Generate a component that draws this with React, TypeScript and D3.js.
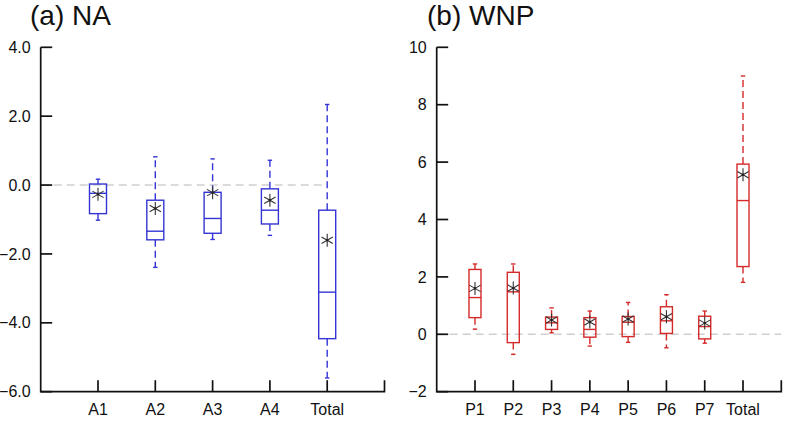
import React, { useRef, useEffect } from 'react';
import * as d3 from 'd3';

// (a) NA
const naCategories = ['A1', 'A2', 'A3', 'A4', 'Total'];
const naWhiskerLow = [-1.02, -2.39, -1.58, -1.46, -5.6];
const naQ1 = [-0.83, -1.59, -1.4, -1.13, -4.46];
const naMedian = [-0.24, -1.34, -0.97, -0.73, -3.11];
const naQ3 = [0.03, -0.44, -0.21, -0.11, -0.73];
const naWhiskerHigh = [0.17, 0.82, 0.76, 0.72, 2.34];
const naMean = [-0.27, -0.68, -0.22, -0.44, -1.6];
const naTicks = [4, 2, 0, -2, -4, -6];

// (b) WNP
const wnpCategories = ['P1', 'P2', 'P3', 'P4', 'P5', 'P6', 'P7', 'Total'];
const wnpWhiskerLow = [0.18, -0.7, 0.05, -0.41, -0.28, -0.47, -0.31, 1.81];
const wnpQ1 = [0.58, -0.29, 0.17, -0.1, -0.08, 0.03, -0.16, 2.36];
const wnpMedian = [1.28, 1.48, 0.4, 0.17, 0.42, 0.47, 0.27, 4.66];
const wnpQ3 = [2.26, 2.16, 0.6, 0.58, 0.62, 0.96, 0.63, 5.93];
const wnpWhiskerHigh = [2.45, 2.45, 0.92, 0.81, 1.11, 1.38, 0.81, 9.0];
const wnpMean = [1.6, 1.61, 0.5, 0.43, 0.53, 0.61, 0.39, 5.56];
const wnpTicks = [10, 8, 6, 4, 2, 0, -2];

const FONT = "'Liberation Sans', Arial, Helvetica, sans-serif";

const drawPanel = (svg, opts) => {
  const {
    title, titleX, categories, lo, q1, med, q3, hi, mean,
    yDomain, yTicks, tickFormat, xRange, color, boxW, zeroEnd,
  } = opts;

  const top = 47.3;
  const bottom = 391.7;
  const nSlots = categories.length + 1;

  const x = d3.scaleLinear().domain([0, nSlots]).range(xRange);
  const y = d3.scaleLinear().domain(yDomain).range([bottom, top]);

  const g = svg.append('g');

  g.append('text')
    .attr('x', titleX)
    .attr('y', 25)
    .attr('font-family', FONT)
    .attr('font-size', 28)
    .attr('fill', '#111')
    .text(title);

  // zero reference line
  g.append('line')
    .attr('x1', x(0)).attr('x2', x(zeroEnd))
    .attr('y1', y(0)).attr('y2', y(0))
    .attr('stroke', '#cfcfcf')
    .attr('stroke-width', 1.5)
    .attr('stroke-dasharray', '8,5');

  // axes
  const tickLen = 11.5;
  g.append('path')
    .attr('d', `M${x(0)},${top}V${bottom}H${x(nSlots)}V${bottom - tickLen}`)
    .attr('fill', 'none')
    .attr('stroke', '#111')
    .attr('stroke-width', 1.7);

  yTicks.forEach(t => {
    g.append('line')
      .attr('x1', x(0)).attr('x2', x(0) + tickLen)
      .attr('y1', y(t)).attr('y2', y(t))
      .attr('stroke', '#111').attr('stroke-width', 1.7);
    g.append('text')
      .attr('x', x(0) - 10)
      .attr('y', y(t))
      .attr('dy', '0.35em')
      .attr('text-anchor', 'end')
      .attr('font-family', FONT)
      .attr('font-size', 16)
      .attr('fill', '#111')
      .text(tickFormat(t));
  });

  categories.forEach((c, i) => {
    const cx = x(i + 1);
    g.append('line')
      .attr('x1', cx).attr('x2', cx)
      .attr('y1', bottom).attr('y2', bottom - tickLen)
      .attr('stroke', '#111').attr('stroke-width', 1.7);
    g.append('text')
      .attr('x', cx)
      .attr('y', 415)
      .attr('text-anchor', 'middle')
      .attr('font-family', FONT)
      .attr('font-size', 16)
      .attr('fill', '#111')
      .text(c);
  });

  // boxes
  categories.forEach((c, i) => {
    const cx = x(i + 1);
    const cap = 2.2;

    // whiskers
    [[q3[i], hi[i]], [q1[i], lo[i]]].forEach(([from, to]) => {
      g.append('line')
        .attr('x1', cx).attr('x2', cx)
        .attr('y1', y(from)).attr('y2', y(to))
        .attr('stroke', color)
        .attr('stroke-width', 1.4)
        .attr('stroke-dasharray', '7,4');
      g.append('line')
        .attr('x1', cx - cap).attr('x2', cx + cap)
        .attr('y1', y(to)).attr('y2', y(to))
        .attr('stroke', color)
        .attr('stroke-width', 1.4);
    });

    g.append('rect')
      .attr('x', cx - boxW / 2)
      .attr('y', y(q3[i]))
      .attr('width', boxW)
      .attr('height', y(q1[i]) - y(q3[i]))
      .attr('fill', 'none')
      .attr('stroke', color)
      .attr('stroke-width', 1.4);

    g.append('line')
      .attr('x1', cx - boxW / 2).attr('x2', cx + boxW / 2)
      .attr('y1', y(med[i])).attr('y2', y(med[i]))
      .attr('stroke', color)
      .attr('stroke-width', 1.4);

    // mean marker: six-ray asterisk
    const my = y(mean[i]);
    const r = 6.5;
    const star = [90, 30, -30].map(a => {
      const rad = (a * Math.PI) / 180;
      const dx = r * Math.cos(rad);
      const dy = r * Math.sin(rad);
      return `M${cx - dx},${my + dy}L${cx + dx},${my - dy}`;
    }).join('');
    g.append('path')
      .attr('d', star)
      .attr('stroke', '#333')
      .attr('stroke-width', 1.1)
      .attr('fill', 'none');
    g.append('circle')
      .attr('cx', cx).attr('cy', my).attr('r', 1.2)
      .attr('fill', '#222');
  });
};

const App = () => {
  const svgRef = useRef(null);

  useEffect(() => {
    const svg = d3.select(svgRef.current);
    svg.selectAll('*').remove();

    drawPanel(svg, {
      title: '(a) NA',
      titleX: 30,
      categories: naCategories,
      lo: naWhiskerLow, q1: naQ1, med: naMedian, q3: naQ3, hi: naWhiskerHigh, mean: naMean,
      yDomain: [-6, 4],
      yTicks: naTicks,
      tickFormat: d3.format('.1f'),
      xRange: [40.7, 384.5],
      color: '#3434d4',
      boxW: 17,
      zeroEnd: 5,
    });

    drawPanel(svg, {
      title: '(b) WNP',
      titleX: 427,
      categories: wnpCategories,
      lo: wnpWhiskerLow, q1: wnpQ1, med: wnpMedian, q3: wnpQ3, hi: wnpWhiskerHigh, mean: wnpMean,
      yDomain: [-2, 10],
      yTicks: wnpTicks,
      tickFormat: d3.format('d'),
      xRange: [436.7, 781.3],
      color: '#d42a2a',
      boxW: 12,
      zeroEnd: 9,
    });
  }, []);

  return (
    <svg
      ref={svgRef}
      width={787}
      height={421}
      style={{ position: 'absolute', left: 0, top: 0, background: '#fff' }}
    />
  );
};

export default App;
